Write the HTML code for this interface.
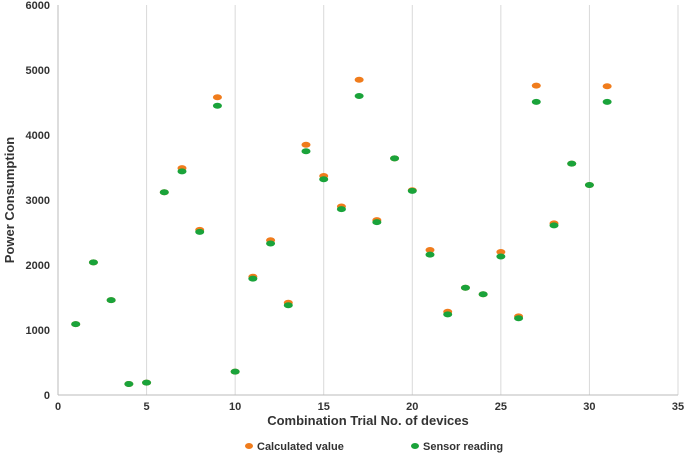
<!DOCTYPE html>
<html><head><meta charset="utf-8"><style>
html,body{margin:0;padding:0;background:#fff;}
svg text{font-family:"Liberation Sans",sans-serif;font-weight:bold;fill:#333;}
</style></head><body>
<svg id="chart" width="685" height="454"></svg>
<script>
const trials=[1,2,3,4,5,6,7,8,9,10,11,12,13,14,15,16,17,18,19,20,21,22,23,24,25,26,27,28,29,30,31];
const calculated=[1090,2040,1460,170,190,3120,3490,2540,4580,360,1820,2380,1420,3850,3370,2900,4850,2690,3640,3150,2230,1280,1650,1550,2200,1210,4760,2640,3560,3230,4750];
const sensor=[1090,2040,1460,170,190,3120,3440,2510,4450,360,1790,2330,1380,3750,3320,2860,4600,2660,3640,3140,2160,1240,1650,1550,2130,1180,4510,2610,3560,3230,4510];
const xTicks=[0,5,10,15,20,25,30,35];
const yTicks=[0,1000,2000,3000,4000,5000,6000];
const NS="http://www.w3.org/2000/svg";
const svg=document.getElementById('chart');
const X0=58,X1=678,Y0=395,Y1=5;
const xs=v=>X0+(v/35)*(X1-X0);
const ys=v=>Y0-(v/6000)*(Y0-Y1);
function mk(t,a,txt){const e=document.createElementNS(NS,t);for(const k in a)e.setAttribute(k,a[k]);if(txt!==undefined)e.textContent=txt;svg.appendChild(e);return e;}
xTicks.forEach(t=>{
  const g=mk('line',{x1:xs(t),x2:xs(t),y1:Y1,y2:Y0,stroke:t===0?'#bbb':'#d9d9d9','stroke-width':1});
  
  
  const l=mk('text',{x:xs(t),y:Y0+15,'text-anchor':'middle','font-size':11},t);
  
  
});
yTicks.forEach(t=>{
  const l=mk('text',{x:X0-8,y:ys(t)+4,'text-anchor':'end','font-size':11},t);
  
  
});
const ax=mk('line',{x1:X0,x2:X1,y1:Y0,y2:Y0,stroke:'#bbb'});


trials.forEach((t,i)=>{
  const c=mk('ellipse',{cx:xs(t),cy:ys(calculated[i]),rx:4.5,ry:3,fill:'#f07c1c'});
  
  
});
trials.forEach((t,i)=>{
  const c=mk('ellipse',{cx:xs(t),cy:ys(sensor[i]),rx:4.5,ry:3,fill:'#1aa33a'});
  
  
});
const xt=mk('text',{x:368,y:425,'text-anchor':'middle','font-size':13},'Combination Trial No. of devices');


const yt=mk('text',{x:14,y:200,'text-anchor':'middle','font-size':13,transform:'rotate(-90 14 200)'},'Power Consumption');


const l1=mk('ellipse',{cx:249,cy:446,rx:4,ry:3,fill:'#f07c1c'});


const l1t=mk('text',{x:257,y:450,'font-size':11},'Calculated value');


const l2=mk('ellipse',{cx:415,cy:446,rx:4,ry:3,fill:'#1aa33a'});


const l2t=mk('text',{x:423,y:450,'font-size':11},'Sensor reading');


</script>
</body></html>
